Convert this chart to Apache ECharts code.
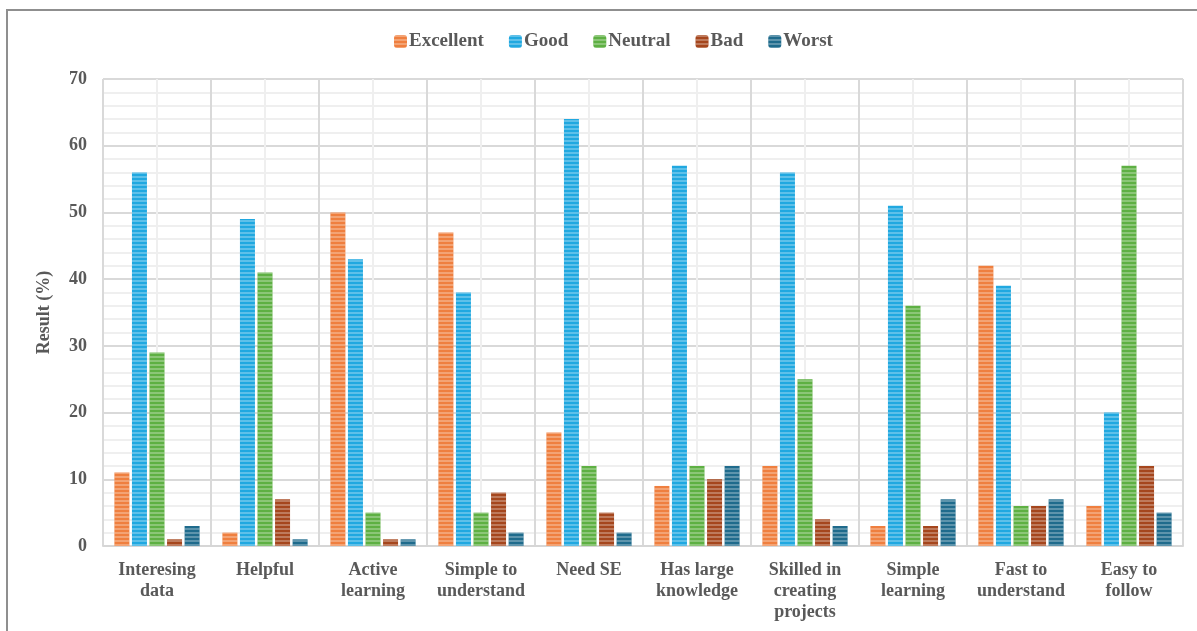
<!DOCTYPE html>
<html>
<head>
<meta charset="utf-8">
<script src="https://cdn.jsdelivr.net/npm/echarts@6/dist/echarts.min.js"></script>
<style>html,body{margin:0;padding:0;background:#fff;}#c{width:1197px;height:631px;}</style>
</head>
<body>
<div id="c"></div>
<script>
const categories = ['Interesing\ndata', 'Helpful', 'Active\nlearning', 'Simple to\nunderstand', 'Need SE', 'Has large\nknowledge', 'Skilled in\ncreating\nprojects', 'Simple\nlearning', 'Fast to\nunderstand', 'Easy to\nfollow'];
const seriesNames = ['Excellent', 'Good', 'Neutral', 'Bad', 'Worst'];
const excellent = [11, 2, 50, 47, 17, 9, 12, 3, 42, 6];
const good = [56, 49, 43, 38, 64, 57, 56, 51, 39, 20];
const neutral = [29, 41, 5, 5, 12, 12, 25, 36, 6, 57];
const bad = [1, 7, 1, 8, 5, 10, 4, 3, 6, 12];
const worst = [3, 1, 1, 2, 2, 12, 3, 7, 7, 5];
const yTicks = [0, 10, 20, 30, 40, 50, 60, 70];

const colors = ['#ef7f3f', '#20a8e0', '#5eb043', '#a5461d', '#1f6b8c'];
const values = [excellent, good, neutral, bad, worst];
const font = '"Liberation Serif", "DejaVu Serif", serif';
const textColor = '#595959';

const chart = echarts.init(document.getElementById('c'));
chart.setOption({
  backgroundColor: '#fff',
  animation: false,
  graphic: [{
    type: 'rect', silent: true, z: -1,
    shape: { x: 7, y: 10, width: 1300, height: 700 },
    style: { fill: 'none', stroke: '#8f8f8f', lineWidth: 2 }
  }],
  legend: {
    top: 27, left: 389,
    itemWidth: 13, itemHeight: 13, itemGap: 25,
    textStyle: { fontFamily: font, fontWeight: 'bold', fontSize: 19, color: textColor, padding: [0, 0, 0, -3] },
    data: seriesNames
  },
  grid: { left: 103, right: 14, top: 79, bottom: 85 },
  xAxis: [{
    type: 'category',
    data: categories,
    boundaryGap: true,
    axisLine: { show: true, lineStyle: { color: '#d6d6d6', width: 2 } },
    axisTick: { show: false },
    splitLine: { show: true, lineStyle: { color: '#d9d9d9', width: 2 } },
    axisLabel: {
      interval: 0, margin: 14,
      fontFamily: font, fontWeight: 'bold', fontSize: 18, color: textColor, lineHeight: 21
    },
    z: 3
  }, {
    type: 'value', min: 0, max: 20, interval: 1,
    show: true,
    axisLine: { show: false }, axisTick: { show: false }, axisLabel: { show: false },
    splitLine: { show: true, lineStyle: { color: '#efefef', width: 2 } }
  }],
  yAxis: {
    type: 'value', min: 0, max: 70, interval: 10,
    name: 'Result (%)', nameLocation: 'middle', nameGap: 50,
    nameTextStyle: { fontFamily: font, fontWeight: 'bold', fontSize: 18, color: textColor },
    axisLine: { show: false }, axisTick: { show: false },
    axisLabel: {
      margin: 16, fontFamily: font, fontWeight: 'bold', fontSize: 18, color: textColor,
      formatter: v => yTicks.includes(v) ? String(v) : ''
    },
    splitLine: { show: true, lineStyle: { color: '#d9d9d9', width: 2 } },
    minorTick: { show: false, splitNumber: 5 },
    minorSplitLine: { show: true, lineStyle: { color: '#efefef', width: 2 } }
  },
  series: seriesNames.map((name, i) => ({
    name: name,
    type: 'bar',
    xAxisIndex: 0,
    data: values[i],
    barWidth: 15,
    barGap: '17%',
    itemStyle: {
      color: colors[i],
      decal: {
        symbol: 'rect',
        symbolSize: 1,
        dashArrayX: [1, 0],
        dashArrayY: [2, 2],
        rotation: 0,
        color: 'rgba(255,255,255,0.28)'
      }
    },
    z: 4
  }))
});
</script>
</body>
</html>
